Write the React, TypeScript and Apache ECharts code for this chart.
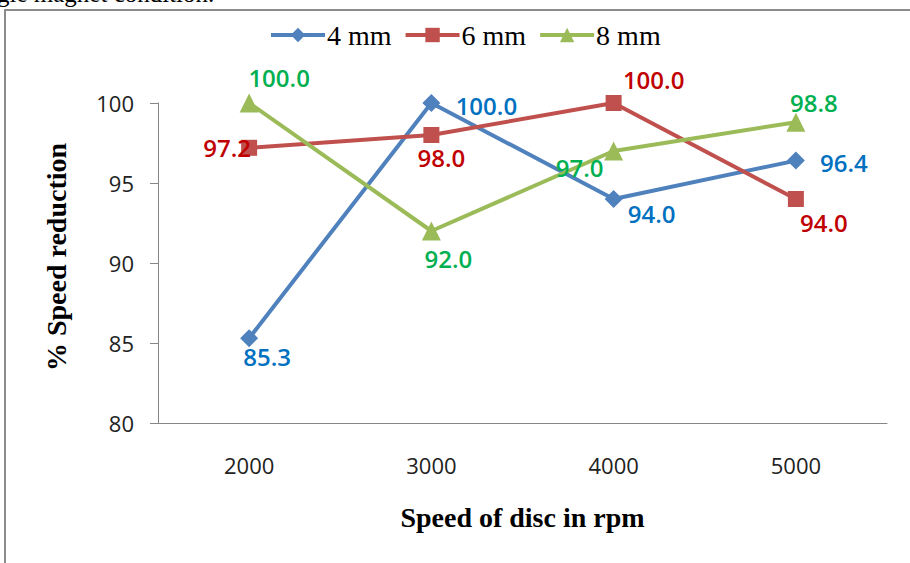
import React, { useEffect, useRef } from "react";
import * as echarts from "echarts";

const categories = ["2000", "3000", "4000", "5000"];
const series4mm = [85.3, 100.0, 94.0, 96.4];
const series6mm = [97.2, 98.0, 100.0, 94.0];
const series8mm = [100.0, 92.0, 97.0, 98.8];
const yTicks = { min: 80, max: 100, interval: 5 };

// label offsets (style only)
const off4 = [[18, 18], [55, 2], [38, 14], [48, 2]];
const off6 = [[-22, 0], [10, 22], [40, -24], [28, 23]];
const off8 = [[30, -26], [17, 27], [-34, 16], [18, -20]];

const SERIF = "'Liberation Serif', 'Times New Roman', serif";
const SANS = "'Open Sans', 'Liberation Sans', sans-serif";

function mkData(vals: number[], offs: number[][]) {
  return vals.map((v, i) => ({ value: v, label: { offset: offs[i] } }));
}

export default function App() {
  const ref = useRef<HTMLDivElement>(null);
  useEffect(() => {
    if (!ref.current) return;
    const chart = echarts.init(ref.current, null, { renderer: "svg" });
    const mkSeries = (name: string, vals: number[], offs: number[][], color: string, labelColor: string, symbol: string, size: number) => ({
      name,
      type: "line",
      data: mkData(vals, offs),
      symbol,
      symbolSize: size,
      lineStyle: { color, width: 4 },
      itemStyle: { color },
      label: {
        show: true,
        position: "inside",
        color: labelColor,
        fontFamily: SANS,
        fontSize: 24,
        fontWeight: 600,
        formatter: (p: any) => Number(p.value).toFixed(1),
      },
      z: 2,
    });
    chart.setOption({
      animation: false,
      backgroundColor: "#ffffff",
      graphic: [
        {
          type: "text",
          left: -3,
          top: -19,
          style: { text: "gle magnet condition.", font: `25px ${SERIF}`, fill: "#000" },
        },
        {
          type: "polyline",
          shape: { points: [[5, 600], [5, 10], [920, 10]] },
          style: { stroke: "#8c8c8c", lineWidth: 2, fill: "none" },
        },
      ],
      legend: {
        left: 264,
        top: 16,
        itemWidth: 54,
        itemHeight: 18,
        itemGap: 12,
        lineStyle: { width: 4 },
        textStyle: { fontFamily: SERIF, fontSize: 28, color: "#000", padding: [0, 0, 0, -3] },
        data: ["4 mm", "6 mm", "8 mm"],
      },
      grid: { left: 158, right: 23, top: 103, bottom: 140 },
      xAxis: {
        type: "category",
        data: categories,
        boundaryGap: true,
        axisLine: { lineStyle: { color: "#868686", width: 1 } },
        axisTick: { show: false },
        axisLabel: { fontFamily: SANS, fontSize: 22, color: "#222", margin: 31 },
        name: "Speed of disc in rpm",
        nameLocation: "middle",
        nameGap: 80,
        nameTextStyle: { fontFamily: SERIF, fontSize: 28, fontWeight: "bold", color: "#000" },
      },
      yAxis: {
        type: "value",
        min: yTicks.min,
        max: yTicks.max,
        interval: yTicks.interval,
        splitLine: { show: false },
        axisLine: { show: true, lineStyle: { color: "#868686", width: 1 } },
        axisTick: { show: true, length: 8, lineStyle: { color: "#868686" } },
        axisLabel: { fontFamily: SANS, fontSize: 22, color: "#222", margin: 24 },
        name: "% Speed reduction",
        nameLocation: "middle",
        nameGap: 88,
        nameTextStyle: { fontFamily: SERIF, fontSize: 28, fontWeight: "bold", color: "#000", padding: [0, 0, 0, 12] },
      },
      series: [
        mkSeries("4 mm", series4mm, off4, "#4F81BD", "#0070C0", "diamond", 18),
        mkSeries("6 mm", series6mm, off6, "#C0504D", "#C00000", "rect", 16),
        mkSeries("8 mm", series8mm, off8, "#9BBB59", "#00B050", "triangle", 19),
      ],
    });
    return () => chart.dispose();
  }, []);
  return (
    <div style={{ position: "fixed", left: 0, top: 0, width: 910, height: 563, background: "#fff" }}>
      <div ref={ref} style={{ width: 910, height: 563 }} />
    </div>
  );
}
